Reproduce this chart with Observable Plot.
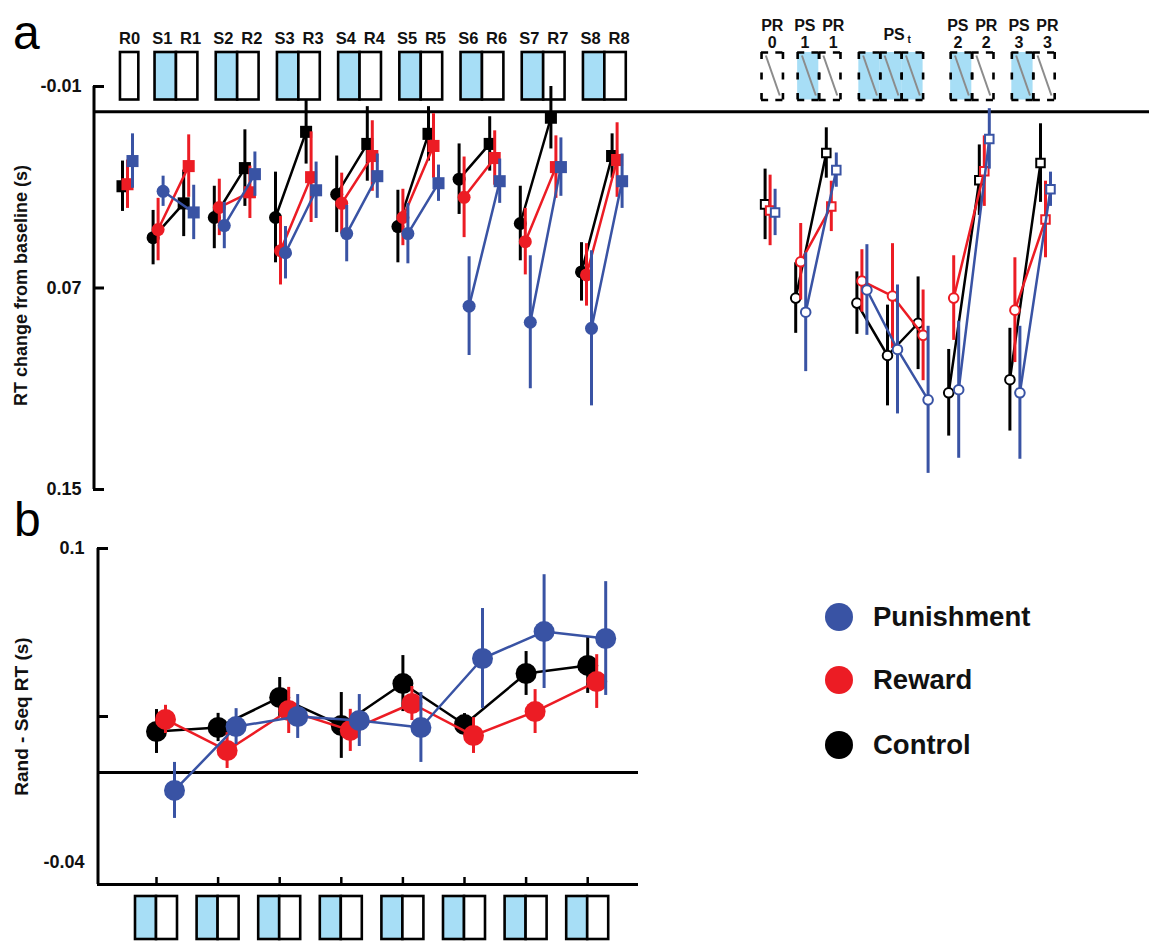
<!DOCTYPE html>
<html>
<head>
<meta charset="utf-8">
<script src="https://cdn.jsdelivr.net/npm/d3@7"></script>
<script src="https://cdn.jsdelivr.net/npm/@observablehq/plot@0.6"></script>
<style>
  html, body { margin: 0; padding: 0; background: #ffffff; }
  #wrap { position: relative; width: 1149px; height: 941px; overflow: hidden; font-family: "Liberation Sans", Arial, sans-serif; }
  #wrap svg { display: block; }
  .letter { position: absolute; font-family: "Liberation Sans", Arial, sans-serif; font-size: 48px; line-height: 48px; color: #000; }
  .legend { position: absolute; left: 825px; top: 0; }
  .legend .item { position: absolute; left: 0; display: flex; align-items: center; white-space: nowrap; }
  .legend .sw { width: 28px; height: 28px; border-radius: 50%; margin-right: 20px; }
  .legend .lab { font-family: "Liberation Sans", Arial, sans-serif; font-weight: bold; font-size: 27.5px; color: #111; }
</style>
</head>
<body>
<div id="wrap"></div>
<script>
// ---------------- DATA ----------------
const seriesNames = ["Control", "Reward", "Punishment"];
const seriesColors = ["#000000", "#ec1c24", "#3953a4"];
const legendOrder = ["Punishment", "Reward", "Control"];

// Panel a: training blocks (S = sequence, R = random)
const trainCats = ["R0","S1","R1","S2","R2","S3","R3","S4","R4","S5","R5","S6","R6","S7","R7","S8","R8"];
const trainControl    = [0.0296,0.0500,0.0364,0.0420,0.0224,0.0420,0.0080,0.0328,0.0128,0.0456,0.0088,0.0268,0.0128,0.0444,0.0024,0.0636,0.0176];
const trainControlErr = [0.0100,0.0108,0.0132,0.0124,0.0152,0.0180,0.0128,0.0152,0.0148,0.0144,0.0108,0.0140,0.0108,0.0148,0.0124,0.0116,0.0088];
const trainReward     = [0.0288,0.0468,0.0216,0.0380,0.0320,0.0552,0.0260,0.0364,0.0176,0.0420,0.0136,0.0340,0.0184,0.0516,0.0220,0.0648,0.0192];
const trainRewardErr  = [0.0096,0.0124,0.0124,0.0112,0.0104,0.0136,0.0180,0.0120,0.0140,0.0112,0.0128,0.0160,0.0108,0.0132,0.0124,0.0124,0.0148];
const trainPunish     = [0.0196,0.0316,0.0400,0.0452,0.0248,0.0560,0.0312,0.0484,0.0256,0.0484,0.0284,0.0772,0.0276,0.0836,0.0220,0.0860,0.0276];
const trainPunishErr  = [0.0108,0.0060,0.0108,0.0092,0.0088,0.0104,0.0112,0.0112,0.0088,0.0120,0.0072,0.0196,0.0088,0.0264,0.0116,0.0308,0.0108];

// Panel a: probe blocks (PS = probe sequence, PR = probe random, PSt = transfer)
const probeCats = ["PR0","PS1","PR1","PSt1","PSt2","PSt3","PS2","PR2","PS3","PR3"];
const probeControl    = [0.0368,0.0740,0.0164,0.0760,0.0968,0.0840,0.1116,0.0272,0.1064,0.0204];
const probeControlErr = [0.0140,0.0140,0.0100,0.0124,0.0200,0.0184,0.0172,0.0140,0.0204,0.0156];
const probeReward     = [0.0392,0.0596,0.0376,0.0672,0.0732,0.0888,0.0740,0.0236,0.0788,0.0428];
const probeRewardErr  = [0.0140,0.0152,0.0100,0.0124,0.0208,0.0180,0.0168,0.0140,0.0208,0.0152];
const probePunish     = [0.0400,0.0796,0.0232,0.0708,0.0944,0.1144,0.1104,0.0108,0.1116,0.0308];
const probePunishErr  = [0.0092,0.0236,0.0068,0.0180,0.0256,0.0292,0.0272,0.0120,0.0264,0.0068];

// Panel b: Rand - Seq RT per training block
const learnCats = ["1","2","3","4","5","6","7","8"];
const learnControl    = [0.0183,0.0201,0.0335,0.0210,0.0397,0.0214,0.0442,0.0478];
const learnControlErr = [0.0098,0.0063,0.0089,0.0147,0.0125,0.0049,0.0098,0.0125];
const learnReward     = [0.0237,0.0098,0.0277,0.0188,0.0308,0.0165,0.0272,0.0406];
const learnRewardErr  = [0.0063,0.0080,0.0103,0.0094,0.0076,0.0080,0.0098,0.0120];
const learnPunish     = [-0.0080,0.0205,0.0250,0.0232,0.0201,0.0509,0.0629,0.0598];
const learnPunishErr  = [0.0125,0.0080,0.0098,0.0116,0.0156,0.0223,0.0254,0.0254];

// Axis ticks
const aTickValues = [-0.01, 0.07, 0.15];
const aTickLabels = ["-0.01", "0.07", "0.15"];
const bTickValues = [0.1, 0.025];
const bLabelValues = [0.1, -0.04];
const bLabelTexts = ["0.1", "-0.04"];
const aTitle = "RT change from baseline (s)";
const bTitle = "Rand - Seq RT (s)";

// ---------------- LAYOUT ----------------
const W = 1149;
const FONT = "Liberation Sans, Arial, sans-serif";
const LIGHT_BLUE = "#a7def6";
const seriesData = [
  {train: trainControl, trainErr: trainControlErr, probe: probeControl, probeErr: probeControlErr, learn: learnControl, learnErr: learnControlErr},
  {train: trainReward,  trainErr: trainRewardErr,  probe: probeReward,  probeErr: probeRewardErr,  learn: learnReward,  learnErr: learnRewardErr},
  {train: trainPunish,  trainErr: trainPunishErr,  probe: probePunish,  probeErr: probePunishErr,  learn: learnPunish,  learnErr: learnPunishErr}
];
const dxA = [-5, 0, 5];
const dxB = [0, 9, 18];

// Panel a geometry
const AH = 500;
const slotPx = 30.6, slot0Px = 127;
const xaDom = [(93 - slot0Px) / slotPx, (W - slot0Px) / slotPx];
const ya = d3.scaleLinear().domain([-0.01, 0.15]).range([86, 489]);
const probeStart = trainCats.length + 4;
const blockOf = (c, sec) => sec === "train" ? "T" + c.slice(1) : (c.startsWith("PSt") ? "Pt" : "P" + c.slice(2));
const isCircle = (c, sec) => sec === "train" ? c[0] === "S" : c.startsWith("PS");

const marksA = [];

// header boxes
function groupsOf(cats, start, sec) {
  const out = []; let cur = null;
  cats.forEach((c, i) => {
    const b = blockOf(c, sec);
    if (!cur || cur.block !== b) { cur = {block: b, sec, items: []}; out.push(cur); }
    cur.items.push({c, slot: start + i});
  });
  return out;
}
const groups = [...groupsOf(trainCats, 0, "train"), ...groupsOf(probeCats, probeStart, "probe")];
const boxes = [];
groups.forEach(g => {
  if (g.items.length === 1) {
    const w = g.sec === "train" ? 0.6 : 0.7;
    const cx = g.items[0].slot + 0.07;
    boxes.push({c: g.items[0].c, sec: g.sec, x1: cx - w / 2, x2: cx + w / 2, pos: 0});
  } else {
    let x = g.items[0].slot - 0.1;
    g.items.forEach((it, k) => { boxes.push({c: it.c, sec: g.sec, x1: x, x2: x + 0.7, pos: k === 0 ? -1 : 1}); x += 0.7; });
  }
});
boxes.forEach(b => { b.cx = (b.x1 + b.x2) / 2; b.fill = (b.c[0] === "S" || b.c.startsWith("PS")) ? LIGHT_BLUE : "#ffffff"; });
const hTop = ya.invert(52), hBot = ya.invert(99.5);
const solid = boxes.filter(b => b.sec === "train");
const dashed = boxes.filter(b => b.sec === "probe");
const labelled = dashed.filter(b => !b.c.startsWith("PSt"));
const spread = 3.5 / slotPx;

marksA.push(
  Plot.rect(solid, {x1: "x1", x2: "x2", y1: hTop, y2: hBot, fill: "fill", stroke: "#000", strokeWidth: 2.6}),
  Plot.rect(dashed, {x1: "x1", x2: "x2", y1: hTop, y2: hBot, fill: "fill"}),
  Plot.link(dashed, {x1: d => d.x1 + 0.2 * (d.x2 - d.x1), x2: d => d.x1 + 0.85 * (d.x2 - d.x1), y1: ya.invert(55), y2: ya.invert(95), stroke: "#8c8c8c", strokeWidth: 2}),
  Plot.ruleY(dashed, {x1: "x1", x2: "x2", y: hTop, stroke: "#000", strokeWidth: 2.6, strokeDasharray: "7.1,7.2"}),
  Plot.ruleY(dashed, {x1: "x1", x2: "x2", y: hBot, stroke: "#000", strokeWidth: 2.6, strokeDasharray: "7.1,7.2"}),
  Plot.ruleX(dashed, {x: "x1", y1: hTop, y2: hBot, stroke: "#000", strokeWidth: 2.6, strokeDasharray: "7,13.5"}),
  Plot.ruleX(dashed, {x: "x2", y1: hTop, y2: hBot, stroke: "#000", strokeWidth: 2.6, strokeDasharray: "7,13.5"}),
  // header labels
  Plot.text(solid, {x: d => d.cx + d.pos * spread, y: ya.invert(38), text: "c", fontSize: 16.5, fontWeight: "bold", fill: "#111"}),
  Plot.text(labelled, {x: d => d.cx + d.pos * spread, y: ya.invert(25), text: d => d.c.slice(0, 2), fontSize: 16, fontWeight: "bold", fill: "#111"}),
  Plot.text(labelled, {x: d => d.cx + d.pos * spread, y: ya.invert(42), text: d => d.c.slice(2), fontSize: 16, fontWeight: "bold", fill: "#111"}),
  Plot.text(groups.filter(g => g.block === "Pt"), {x: g => (g.items[0].slot + g.items[g.items.length - 1].slot) / 2 + 0.15, y: ya.invert(34), text: () => "PS", fontSize: 16, fontWeight: "bold", fill: "#111", dx: -3}),
  Plot.text(groups.filter(g => g.block === "Pt"), {x: g => (g.items[0].slot + g.items[g.items.length - 1].slot) / 2 + 0.15, y: ya.invert(34), text: () => "t", fontSize: 10, fontWeight: "bold", fill: "#111", dx: 12, dy: 5})
);

// axis
marksA.push(
  Plot.ruleY([0], {x1: xaDom[0], x2: xaDom[1], stroke: "#000", strokeWidth: 3}),
  Plot.ruleX([xaDom[0]], {y1: -0.01, y2: 0.15, stroke: "#000", strokeWidth: 3, dx: 0.5}),
  Plot.ruleY(aTickValues, {x1: xaDom[0], x2: xaDom[0] + 11 / slotPx, stroke: "#000", strokeWidth: 3}),
  Plot.text(aTickValues, {x: xaDom[0], y: d => d, text: (d, i) => aTickLabels[i], textAnchor: "end", dx: -12, fontSize: 18, fontWeight: "bold", fill: "#111"}),
  Plot.text([aTitle], {x: xaDom[0], y: 0.069, text: d => d, rotate: -90, dx: -72, fontSize: 18, fontWeight: "bold", fill: "#111"})
);

// series
seriesNames.forEach((name, si) => {
  const s = seriesData[si], col = seriesColors[si], dx = dxA[si];
  const rows = [
    ...trainCats.map((c, i) => ({c, slot: i, m: s.train[i], e: s.trainErr[i], block: blockOf(c, "train"), circle: isCircle(c, "train"), hollow: false})),
    ...probeCats.map((c, i) => ({c, slot: probeStart + i, m: s.probe[i], e: s.probeErr[i], block: blockOf(c, "probe"), circle: isCircle(c, "probe"), hollow: true}))
  ];
  marksA.push(
    Plot.ruleX(rows, {x: "slot", y1: d => d.m - d.e, y2: d => d.m + d.e, stroke: col, strokeWidth: 3, dx}),
    Plot.line(rows, {x: "slot", y: "m", z: "block", stroke: col, strokeWidth: 2.5, dx}),
    Plot.dot(rows.filter(d => !d.hollow && d.circle), {x: "slot", y: "m", r: 6.5, fill: col, dx}),
    Plot.dot(rows.filter(d => !d.hollow && !d.circle), {x: "slot", y: "m", r: 6.8, symbol: "square", fill: col, dx}),
    Plot.dot(rows.filter(d => d.hollow && d.circle), {x: "slot", y: "m", r: 4.8, fill: "#fff", stroke: col, strokeWidth: 2, dx}),
    Plot.dot(rows.filter(d => d.hollow && !d.circle), {x: "slot", y: "m", r: 4.8, symbol: "square", fill: "#fff", stroke: col, strokeWidth: 2, dx})
  );
});

const chartA = Plot.plot({
  width: W, height: AH,
  marginLeft: 93, marginRight: 0, marginTop: 86, marginBottom: AH - 489,
  x: {type: "linear", domain: xaDom, range: [93, W], axis: null},
  y: {type: "linear", domain: [-0.01, 0.15], range: [86, 489], axis: null},
  style: {fontFamily: FONT, background: "transparent", overflow: "visible"},
  marks: marksA
});

// ---------------- Panel b ----------------
const BH = 441;
const tickPx = 61.6, tick0Px = 156;
const xbDom = [(97 - tick0Px) / tickPx, (638 - tick0Px) / tickPx];
const yb = d3.scaleLinear().domain([-0.05, 0.1]).range([384, 48]);
const marksB = [];
const idx = learnCats.map((c, i) => i);

marksB.push(
  Plot.ruleY([0], {x1: xbDom[0], x2: xbDom[1], stroke: "#000", strokeWidth: 3}),
  Plot.ruleY([-0.05], {x1: xbDom[0], x2: xbDom[1], stroke: "#000", strokeWidth: 3}),
  Plot.ruleX([xbDom[0]], {y1: -0.05, y2: 0.1, stroke: "#000", strokeWidth: 3, dx: 0.5}),
  Plot.ruleY(bTickValues, {x1: xbDom[0], x2: xbDom[0] + 11 / tickPx, stroke: "#000", strokeWidth: 3}),
  Plot.ruleX(idx, {x: d => d, y1: -0.05, y2: yb.invert(377), stroke: "#000", strokeWidth: 2.5}),
  Plot.text(bLabelValues, {x: xbDom[0], y: d => d, text: (d, i) => bLabelTexts[i], textAnchor: "end", dx: -13, fontSize: 18, fontWeight: "bold", fill: "#111"}),
  Plot.text([bTitle], {x: xbDom[0], y: 0.025, text: d => d, rotate: -90, dx: -76, fontSize: 19, fontWeight: "bold", fill: "#111"}),
  // block boxes under axis
  Plot.rect(idx, {x1: d => d - 21 / tickPx, x2: d => d, y1: yb.invert(396), y2: yb.invert(439), fill: LIGHT_BLUE, stroke: "#000", strokeWidth: 2.6}),
  Plot.rect(idx, {x1: d => d, x2: d => d + 21 / tickPx, y1: yb.invert(396), y2: yb.invert(439), fill: "#fff", stroke: "#000", strokeWidth: 2.6})
);

seriesNames.forEach((name, si) => {
  const s = seriesData[si], col = seriesColors[si], dx = dxB[si];
  const rows = learnCats.map((c, i) => ({i, m: s.learn[i], e: s.learnErr[i]}));
  marksB.push(
    Plot.ruleX(rows, {x: "i", y1: d => d.m - d.e, y2: d => d.m + d.e, stroke: col, strokeWidth: 3, dx}),
    Plot.line(rows, {x: "i", y: "m", stroke: col, strokeWidth: 2.5, dx}),
    Plot.dot(rows, {x: "i", y: "m", r: 10.5, fill: col, dx})
  );
});

const chartB = Plot.plot({
  width: W, height: BH,
  marginLeft: 97, marginRight: W - 638, marginTop: 48, marginBottom: BH - 384,
  x: {type: "linear", domain: xbDom, range: [97, 638], axis: null},
  y: {type: "linear", domain: [-0.05, 0.1], range: [384, 48], axis: null},
  style: {fontFamily: FONT, background: "transparent", overflow: "visible"},
  marks: marksB
});

// ---------------- assemble ----------------
const wrap = document.getElementById("wrap");
wrap.appendChild(chartA);
wrap.appendChild(chartB);

const la = document.createElement("div"); la.className = "letter"; la.textContent = "a";
la.style.left = "13px"; la.style.top = "9px"; wrap.appendChild(la);
const lb = document.createElement("div"); lb.className = "letter"; lb.textContent = "b";
lb.style.left = "14px"; lb.style.top = "496px"; wrap.appendChild(lb);

const leg = document.createElement("div"); leg.className = "legend"; wrap.appendChild(leg);
const legY = [615, 678, 743];
legendOrder.forEach((n, k) => {
  const it = document.createElement("div"); it.className = "item";
  it.style.top = (legY[k] - 14) + "px";
  const sw = document.createElement("div"); sw.className = "sw"; sw.style.background = seriesColors[seriesNames.indexOf(n)];
  const lab = document.createElement("div"); lab.className = "lab"; lab.textContent = n;
  it.appendChild(sw); it.appendChild(lab); leg.appendChild(it);
});
</script>
</body>
</html>
